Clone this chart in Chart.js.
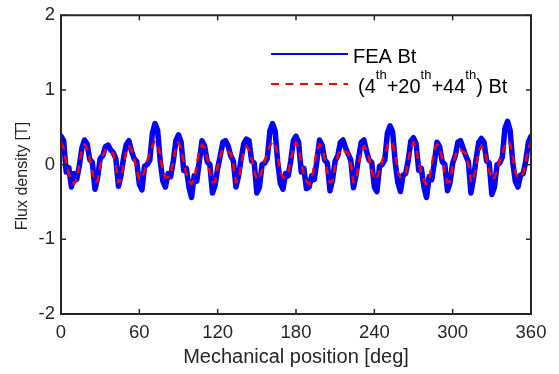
<!DOCTYPE html>
<html>
<head>
<title>Flux density vs mechanical position</title>
<script src="https://cdn.jsdelivr.net/npm/chart.js@4.4.0/dist/chart.umd.min.js"></script>
<style>
  body { margin: 0; background: #fff; }
  canvas { display: block; }
</style>
</head>
<body>
<canvas id="fluxChart" width="559" height="374"></canvas>
<script>
// samples every 2 deg, 0..360
const stepDeg = 2;

const feaBt = [
  0.38, 0.32, -0.10, -0.04, -0.30, -0.12, -0.20, -0.02, 0.22, 0.33, 0.28, 0.07, 0.03, -0.33, -0.18,
  0.08, 0.12, 0.24, 0.26, 0.20, 0.16, 0.08, -0.29, -0.14, 0.10, 0.27, 0.32, 0.18, 0.08, 0.04,
  -0.26, -0.34, -0.02, 0.00, 0.06, 0.42, 0.55, 0.46, 0.05, -0.22, -0.30, -0.12, -0.16, 0.05, 0.32,
  0.40, 0.30, -0.08, -0.05, -0.30, -0.44, -0.15, -0.22, 0.05, 0.32, 0.25, 0.04, 0.00, -0.38, -0.28,
  -0.05, 0.12, 0.30, 0.32, 0.25, 0.12, 0.05, -0.30, -0.15, 0.08, 0.28, 0.34, 0.32, 0.05, 0.02,
  -0.38, -0.30, 0.00, 0.02, 0.08, 0.45, 0.55, 0.45, 0.03, -0.25, -0.33, -0.12, -0.15, 0.05, 0.32,
  0.38, 0.30, -0.10, -0.05, -0.32, -0.30, -0.15, -0.20, 0.05, 0.33, 0.26, 0.06, 0.02, -0.35, -0.20,
  0.05, 0.12, 0.30, 0.33, 0.22, 0.14, 0.06, -0.31, -0.14, 0.10, 0.30, 0.33, 0.18, 0.06, 0.03,
  -0.30, -0.36, -0.02, 0.00, 0.06, 0.42, 0.52, 0.44, 0.03, -0.24, -0.36, -0.14, -0.12, 0.06, 0.32,
  0.36, 0.28, -0.08, -0.05, -0.30, -0.44, -0.16, -0.20, 0.03, 0.30, 0.24, 0.04, 0.00, -0.35, -0.24,
  0.02, 0.12, 0.30, 0.32, 0.22, 0.12, 0.04, -0.38, -0.18, 0.08, 0.30, 0.35, 0.30, 0.05, 0.02,
  -0.40, -0.30, 0.00, 0.02, 0.10, 0.48, 0.58, 0.46, 0.03, -0.22, -0.30, -0.14, -0.12, 0.05, 0.30,
  0.38
];

const harmonicBt = [
  0.30, 0.22, 0.02, -0.12, -0.22, -0.26, -0.20, 0.00, 0.20, 0.27, 0.22, 0.08, -0.10, -0.24, -0.22,
  -0.02, 0.12, 0.20, 0.20, 0.17, 0.15, 0.00, -0.24, -0.20, 0.00, 0.18, 0.25, 0.20, 0.08, -0.08,
  -0.20, -0.18, -0.08, 0.05, 0.15, 0.25, 0.31, 0.28, 0.12, -0.10, -0.17, -0.17, -0.12, 0.05, 0.22,
  0.30, 0.22, 0.02, -0.12, -0.22, -0.26, -0.20, 0.00, 0.20, 0.27, 0.22, 0.08, -0.10, -0.24, -0.22,
  -0.02, 0.12, 0.20, 0.20, 0.17, 0.15, 0.00, -0.24, -0.20, 0.00, 0.18, 0.25, 0.20, 0.08, -0.08,
  -0.20, -0.18, -0.08, 0.05, 0.15, 0.25, 0.31, 0.28, 0.12, -0.10, -0.17, -0.17, -0.12, 0.05, 0.22,
  0.30, 0.22, 0.02, -0.12, -0.22, -0.26, -0.20, 0.00, 0.20, 0.27, 0.22, 0.08, -0.10, -0.24, -0.22,
  -0.02, 0.12, 0.20, 0.20, 0.17, 0.15, 0.00, -0.24, -0.20, 0.00, 0.18, 0.25, 0.20, 0.08, -0.08,
  -0.20, -0.18, -0.08, 0.05, 0.15, 0.25, 0.31, 0.28, 0.12, -0.10, -0.17, -0.17, -0.12, 0.05, 0.22,
  0.30, 0.22, 0.02, -0.12, -0.22, -0.26, -0.20, 0.00, 0.20, 0.27, 0.22, 0.08, -0.10, -0.24, -0.22,
  -0.02, 0.12, 0.20, 0.20, 0.17, 0.15, 0.00, -0.24, -0.20, 0.00, 0.18, 0.25, 0.20, 0.08, -0.08,
  -0.20, -0.18, -0.08, 0.05, 0.15, 0.25, 0.31, 0.28, 0.12, -0.10, -0.17, -0.17, -0.12, 0.05, 0.22,
  0.30
];

const seriesNames = ['FEA Bt', '(4th+20th+44th) Bt'];
// legend text for the harmonic series, [text, superscript?]
const harmonicLabelParts = [['(4', false], ['th', true], ['+20', false], ['th', true], ['+44', false], ['th', true], [') Bt', false]];
const xTitle = 'Mechanical position [deg]';
const yTitle = 'Flux density [T]';

const axisColor = '#262626';
const fontFamily = '"Liberation Sans", Arial, sans-serif';

function toPoints(values) {
    return values.map((v, i) => ({ x: i * stepDeg, y: v }));
}

// box, inward ticks, rotated y label and the legend
const matlabFrame = {
    id: 'matlabFrame',
    afterDatasetsDraw(chart) {
        const { ctx, chartArea: a, scales: { x, y } } = chart;
        ctx.save();
        ctx.strokeStyle = axisColor;
        ctx.lineWidth = 2;
        ctx.strokeRect(a.left, a.top, a.right - a.left, a.bottom - a.top);
        ctx.lineWidth = 1.5;
        ctx.beginPath();
        x.ticks.forEach(t => {
            const px = x.getPixelForValue(t.value);
            ctx.moveTo(px, a.bottom); ctx.lineTo(px, a.bottom - 5);
            ctx.moveTo(px, a.top); ctx.lineTo(px, a.top + 5);
        });
        y.ticks.forEach(t => {
            const py = y.getPixelForValue(t.value);
            ctx.moveTo(a.left, py); ctx.lineTo(a.left + 5, py);
            ctx.moveTo(a.right, py); ctx.lineTo(a.right - 5, py);
        });
        ctx.stroke();

        ctx.save();
        ctx.translate(23, 176);
        ctx.rotate(-Math.PI / 2);
        ctx.fillStyle = axisColor;
        ctx.font = '16px ' + fontFamily;
        ctx.textAlign = 'center';
        ctx.textBaseline = 'middle';
        ctx.fillText(yTitle, 0, 0);
        ctx.restore();

        // legend
        const ds = chart.data.datasets;
        ctx.lineWidth = 2;
        ctx.strokeStyle = ds[0].borderColor;
        ctx.setLineDash([]);
        ctx.beginPath(); ctx.moveTo(271, 54); ctx.lineTo(348, 54); ctx.stroke();
        ctx.strokeStyle = ds[1].borderColor;
        ctx.setLineDash([8, 6.5]);
        ctx.beginPath(); ctx.moveTo(271, 84); ctx.lineTo(348, 84); ctx.stroke();
        ctx.setLineDash([]);

        ctx.fillStyle = '#000';
        ctx.textAlign = 'left';
        ctx.textBaseline = 'alphabetic';
        ctx.font = '20px ' + fontFamily;
        ctx.fillText(seriesNames[0], 353, 63);
        let tx = 358;
        harmonicLabelParts.forEach(([txt, sup]) => {
            ctx.font = (sup ? '13px ' : '20px ') + fontFamily;
            ctx.fillText(txt, tx, sup ? 79 : 93);
            tx += ctx.measureText(txt).width;
        });
        ctx.restore();
    }
};

new Chart(document.getElementById('fluxChart'), {
    type: 'line',
    data: {
        datasets: [{
            label: seriesNames[0],
            data: toPoints(feaBt),
            borderColor: '#0000ff',
            borderWidth: 5.5,
            borderJoinStyle: 'round',
            borderCapStyle: 'round',
            pointRadius: 0,
            tension: 0,
            order: 1
        }, {
            label: seriesNames[1],
            data: toPoints(harmonicBt),
            borderColor: '#ff0000',
            borderWidth: 2.5,
            borderDash: [8, 6],
            borderJoinStyle: 'round',
            pointRadius: 0,
            tension: 0,
            order: 0
        }]
    },
    options: {
        responsive: false,
        animation: false,
        layout: { padding: { left: 0, top: 10, right: 28, bottom: 0 } },
        plugins: { legend: { display: false }, tooltip: { enabled: false } },
        scales: {
            x: {
                type: 'linear',
                min: 0,
                max: 360,
                afterFit: s => { s.height = 60; },
                grid: { display: false, drawTicks: false },
                border: { display: false },
                ticks: {
                    stepSize: 60,
                    maxRotation: 0,
                    autoSkip: false,
                    padding: 10,
                    color: axisColor,
                    font: { family: fontFamily, size: 18.5, lineHeight: 1 }
                },
                title: {
                    display: true,
                    text: xTitle,
                    color: axisColor,
                    padding: 5,
                    font: { family: fontFamily, size: 20 }
                }
            },
            y: {
                min: -2,
                max: 2,
                afterFit: s => { s.width = 61; },
                grid: { display: false, drawTicks: false },
                border: { display: false },
                ticks: {
                    stepSize: 1,
                    padding: 6,
                    color: axisColor,
                    font: { family: fontFamily, size: 18.5, lineHeight: 1 }
                }
            }
        }
    },
    plugins: [matlabFrame]
});
</script>
</body>
</html>
